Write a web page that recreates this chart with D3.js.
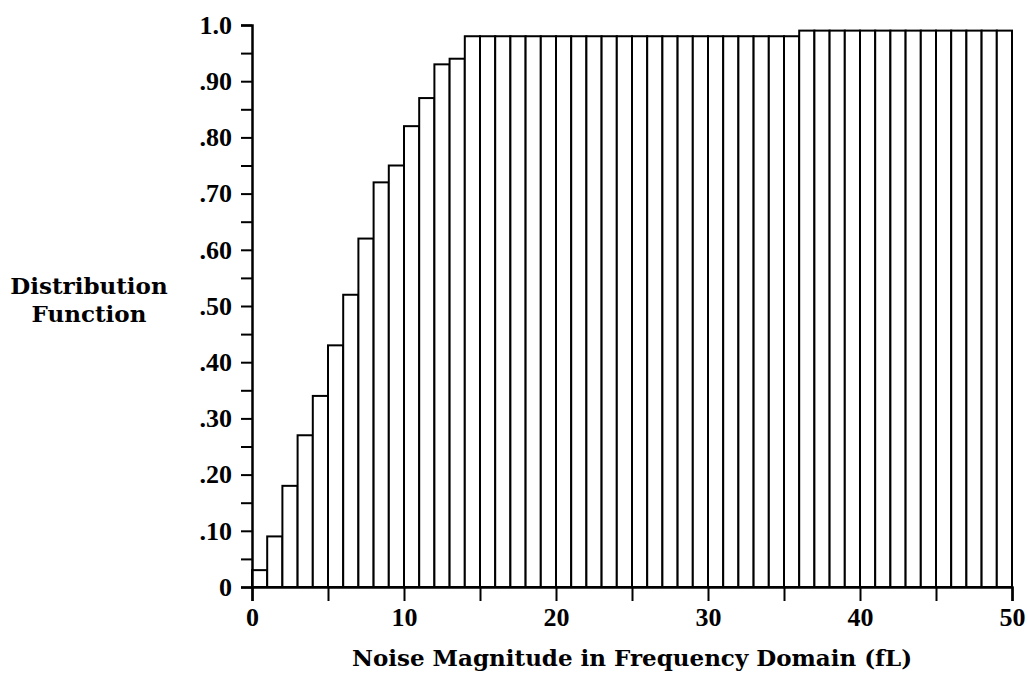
<!DOCTYPE html>
<html>
<head>
<meta charset="utf-8">
<script src="https://cdn.jsdelivr.net/npm/d3@7"></script>
<style>
  body { margin: 0; background: #fff; }
  text { font-family: "DejaVu Serif", "Liberation Serif", serif; font-weight: bold; fill: #000; }
  .tick text { font-family: "Liberation Serif", "DejaVu Serif", serif; }
</style>
</head>
<body>
<div id="chart-area"></div>
<script>
// one bar per unit of noise magnitude, 0..49
var bins = d3.range(0, 50);
var cdf = [0.03, 0.09, 0.18, 0.27, 0.34, 0.43, 0.52, 0.62, 0.72, 0.75,
  0.82, 0.87, 0.93, 0.94, 0.98, 0.98, 0.98, 0.98, 0.98, 0.98,
  0.98, 0.98, 0.98, 0.98, 0.98, 0.98, 0.98, 0.98, 0.98, 0.98,
  0.98, 0.98, 0.98, 0.98, 0.98, 0.98, 0.99, 0.99, 0.99, 0.99,
  0.99, 0.99, 0.99, 0.99, 0.99, 0.99, 0.99, 0.99, 0.99, 0.99];
var yTicks = [0, 0.1, 0.2, 0.3, 0.4, 0.5, 0.6, 0.7, 0.8, 0.9, 1.0];
var xTicks = [0, 10, 20, 30, 40, 50];

var width = 1028, height = 685;
var margin = { top: 25, right: 16, bottom: 98, left: 252 };

var svg = d3.select("#chart-area")
  .append("svg")
  .attr("width", width)
  .attr("height", height);

var g = svg.append("g")
  .attr("transform", "translate(" + margin.left + ", " + margin.top + ")");

var w = width - margin.right - margin.left;
var h = 587 - margin.top;

var x = d3.scaleLinear().domain([0, 50]).range([0, w]);
var y = d3.scaleLinear().domain([0, 1]).range([h, 0]);

// bars
g.selectAll("rect.bar")
  .data(bins)
  .enter().append("rect")
  .attr("class", "bar")
  .attr("x", d => x(d))
  .attr("y", d => y(cdf[d]))
  .attr("width", x(1) - x(0))
  .attr("height", d => h - y(cdf[d]))
  .attr("fill", "#fff")
  .attr("stroke", "#000")
  .attr("stroke-width", 2);

// y axis: labelled ticks every .10, minor every .05
var yAxis = d3.axisLeft(y)
  .tickValues(d3.range(0, 1.001, 0.05))
  .tickSize(11)
  .tickPadding(9)
  .tickFormat(d => {
    var hit = yTicks.find(t => Math.abs(t - d) < 1e-6);
    if (hit === undefined) return "";
    if (hit === 0) return "0";
    if (hit === 1) return "1.0";
    return d3.format(".2f")(hit).replace(/^0/, "");
  });

var yAxisG = g.append("g").call(yAxis);
yAxisG.select(".domain").attr("stroke-width", 2.5);
yAxisG.selectAll(".tick line").attr("stroke-width", 2);
yAxisG.selectAll("text").attr("font-size", "26px").attr("font-family", null);

// x axis: ticks every 5, labels every 10
var xAxis = d3.axisBottom(x)
  .tickValues(d3.range(0, 51, 5))
  .tickSize(14)
  .tickPadding(7)
  .tickFormat(d => xTicks.includes(d) ? d : "");

var xAxisG = g.append("g")
  .attr("transform", "translate(0, " + h + ")")
  .call(xAxis);
xAxisG.select(".domain").attr("stroke-width", 2.5);
xAxisG.selectAll(".tick line").attr("stroke-width", 2);
xAxisG.selectAll("text").attr("font-size", "26px").attr("font-family", null);

// titles
svg.append("text")
  .attr("x", 632)
  .attr("y", 666)
  .attr("text-anchor", "middle")
  .attr("font-size", "23px")
  .text("Noise Magnitude in Frequency Domain (fL)");

var yLabel = svg.append("text")
  .attr("x", 89)
  .attr("y", 294)
  .attr("text-anchor", "middle")
  .attr("font-size", "23px");
yLabel.append("tspan").attr("x", 89).text("Distribution");
yLabel.append("tspan").attr("x", 89).attr("dy", 28).text("Function");
</script>
</body>
</html>
